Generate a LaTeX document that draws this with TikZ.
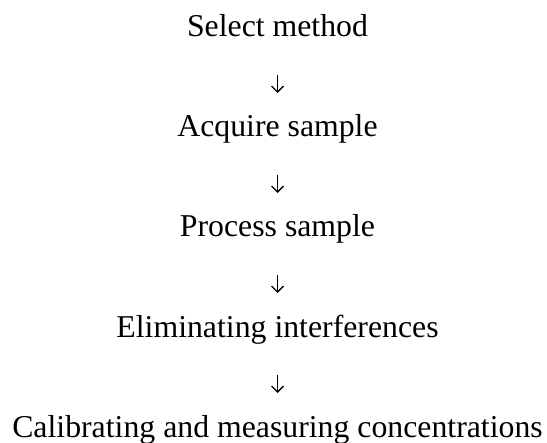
\documentclass[tikz,border=0pt]{standalone}
\usepackage{fontspec}
\setmainfont{Liberation Serif}
\usetikzlibrary{arrows.meta}
\begin{document}
\begin{tikzpicture}[x=1bp,y=-1bp,
  steptext/.style={anchor=base, inner sep=0pt, font=\fontsize{31.9pt}{38pt}\selectfont},
  flow/.style={line width=1.1bp, -{Straight Barb[length=6bp,width=12bp,line width=1.3bp]},
    shorten <=38bp, shorten >=44bp}]
  \useasboundingbox (0,0) rectangle (547,443);
  \node[steptext] (n1) at (277.5,37) {Select method};
  \node[steptext] (n2) at (277.5,137) {Acquire sample};
  \node[steptext] (n3) at (277.5,237) {Process sample};
  \node[steptext] (n4) at (277.5,337) {Eliminating interferences};
  \node[steptext] (n5) at (277.5,437) {Calibrating and measuring concentrations};
  \draw[flow] (n1.base) -- (n2.base);
  \draw[flow] (n2.base) -- (n3.base);
  \draw[flow] (n3.base) -- (n4.base);
  \draw[flow] (n4.base) -- (n5.base);
\end{tikzpicture}
\end{document}
